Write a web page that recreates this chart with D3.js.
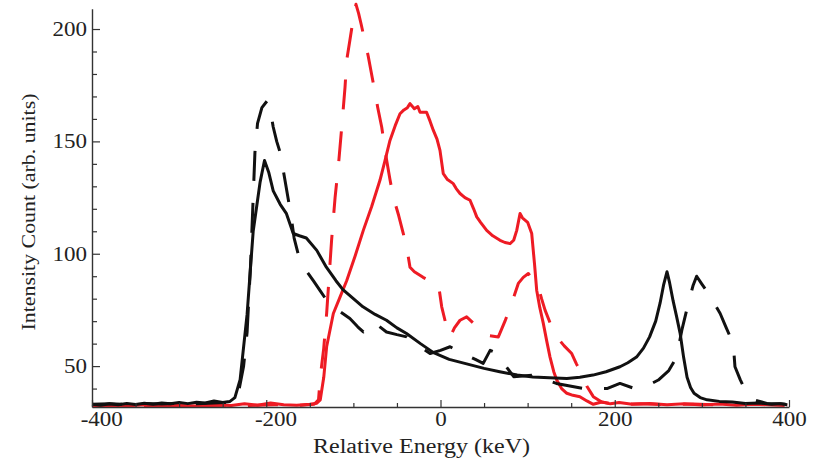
<!DOCTYPE html>
<html>
<head>
<meta charset="utf-8">
<script src="https://cdn.jsdelivr.net/npm/d3@7"></script>
<style>
  html, body { margin: 0; padding: 0; background: #fff; }
  svg { display: block; }
  text { font-family: "Liberation Serif", "Times New Roman", serif; fill: #222; }
</style>
</head>
<body>
<svg id="chart" width="814" height="459"></svg>
<script>
// ---- Data (Relative Energy keV, Intensity Count) ----
const blackSolidX = [-400,-390,-380,-370,-360,-350,-340,-330,-320,-310,-300,-290,-280,-270,-260,-250,-242,-236,-230,-222,-215,-207,-202,-197,-192,-184,-177,-169,-162,-154,-142,-131,-120,-112,-100,-89,-75,-62,-50,-39,-23,-8,10,30,50,68,88,106,125,145,160,175,190,206,215,225,233,240,247,252,256,260,263,267,271,275,279,283,287,291,298,306,320,335,350,365,380,390,398];
const blackSolidY = [33,32.6,33.2,32.8,33.4,32.9,33.5,33.0,33.6,33.2,33.8,33.3,33.9,33.6,34.5,33.8,34.2,36,44,73,110,132,141.5,136,128,122,118,109,108,107,101.5,94,88,84,80,76.4,73,70.4,67,64.5,60,56,53,51,49,47.5,46,45.2,44.8,44.5,45,46,47.5,49.7,51.5,54,58,63,70,78,86,92,87,79,72,64.7,54,45,40.5,37.9,36,35,34.3,34,33.4,33.6,33,33.3,32.8];

const blackDashX = [-400,-380,-360,-340,-320,-300,-280,-260,-248,-240,-232,-226,-222,-218,-215,-213,-210,-205,-199,-195,-192,-188,-184,-178.5,-172,-168,-163,-155,-146,-138,-130.7,-118,-104,-95,-88.6,-77,-62,-50,-38.8,-25,-12,0,11,26,40,49,57,66,75,84,106,120,133,150,164,178,191,206,223,236,250,262,271,277,284.5,290,294,300,307.5,314,321,328,336,338,344,351.5,360,374.5,390,400];
const blackDashY = [33,33.3,32.9,33.4,33.1,33.5,33.2,33.6,33.8,34,38,50,65,95,125,145,158,165,168,163,156.4,150,145,132.7,118,107,99.3,93,88,83.5,79.3,75,71.2,67.5,65.2,69.7,65.2,64,63,59,55.6,57,58.6,55.6,53,51.2,57,55.6,50,45.3,46,44,42.3,41,40,40,40,42.3,40,41,43.8,48,54,66,78,86,90,86.5,82.3,78,73.4,67,60,49.7,44,37.9,35,33.4,33.2,33];

const redSolidX = [-400,-380,-360,-340,-320,-300,-280,-260,-240,-225,-210,-195,-180,-165,-150,-142,-138,-134,-130.7,-123,-115,-107.7,-98,-88.6,-79,-69.5,-64,-58,-52,-46.5,-42,-38,-35,-30,-26,-23.5,-16,-12,-8.3,-4,-0.6,3.2,8,14.7,18,22.4,28,33.9,38,41.6,46,53,60,68.3,74,79.8,84,87.5,91.3,94,97,100,104.7,108,110.4,114,118,122,125.7,130,133.4,139,145,152,160,168,175.4,185,195,205,220,240,260,280,300,320,340,360,380,395];
const redSolidY = [32.3,32.6,32.2,32.8,32.4,32.5,32.3,32.7,32.5,33.2,32.6,33.6,32.8,32.6,33.0,33.5,35,45,58.6,73.4,81,88,99,110.4,121,132.7,141,150.4,157,162.3,164,165,166.8,164.5,165.5,163,163,159,155,151,146,135.6,133,131.2,129,126.8,125,123.8,120,116.4,114,110.4,108,106,105,104.5,106,110.4,117.9,116,115,114,109,95,83.8,76,69,61,54,47.5,43.8,40,37.9,37,36.4,34.5,33,34,33.2,33.8,33,33.4,32.8,33.2,32.7,33.1,32.6,33,32.7,32.5];

const redDashX = [-400,-370,-340,-310,-280,-250,-220,-190,-160,-145,-140,-138,-134,-130.7,-125,-121,-117,-113,-109.6,-107.7,-104,-100,-97,-94,-91,-88.6,-83,-77,-72,-67.5,-61.8,-58,-54,-48,-42.7,-38,-35,-30,-20,-10,-2.5,1.4,6,11,16,22.4,30,38,47.3,56,66.4,74,81.7,89.3,95,100.8,106,112.3,116,120,126,133.4,142,150.6,156,162,168,175.4,185,200,230,260,290,320,350,380,398];
const redDashY = [32.4,32.6,32.3,32.7,32.4,32.6,32.5,32.8,32.6,33,35,45.2,58,73.4,106,125,140,158,174,186,195,205,211,207,202,197.8,188,175.6,165,156.4,141.6,133,125,117,109,101,94,92,89.5,87.5,86.8,76.4,69,63,67,70.4,71.9,69,65.2,63.5,63,70,77.9,86.8,89.5,91.2,88.5,85.2,80,74.9,69,63,59,55.6,51,46.7,41,36.4,34,33,33.2,32.8,33.1,32.7,33,32.8,32.6];

const xTickValues = [-400,-350,-300,-250,-200,-150,-100,-50,0,50,100,150,200,250,300,350,400];
const xTickLabels = [-400,-200,0,200,400];
const yTickValues = [40,50,60,70,80,90,100,110,120,130,140,150,160,170,180,190,200];
const yTickLabels = [50,100,150,200];

const xTitle = "Relative Energy (keV)";
const yTitle = "Intensity Count (arb. units)";

// ---- Drawing ----
const svg = d3.select("#chart");
const x = d3.scaleLinear().domain([-400, 400]).range([92, 789]);
const y = d3.scaleLinear().domain([31.8, 209]).range([407, 8.8]);

const RED = "#ee1b24", BLACK = "#111";
const line = d3.line().x(d => x(d[0])).y(d => y(d[1])).curve(d3.curveLinear);
const zip = (xs, ys) => xs.map((v, i) => [v, ys[i]]);

const series = [
  {x: redSolidX, y: redSolidY, color: RED, dash: null},
  {x: redDashX, y: redDashY, color: RED, dash: "30,22"},
  {x: blackSolidX, y: blackSolidY, color: BLACK, dash: null},
  {x: blackDashX, y: blackDashY, color: BLACK, dash: "30,22"}
];
series.forEach(s => {
  svg.append("path")
    .datum(zip(s.x, s.y))
    .attr("d", line)
    .attr("fill", "none")
    .attr("stroke", s.color)
    .attr("stroke-width", 3)
    .attr("stroke-linejoin", "round")
    .attr("stroke-dasharray", s.dash);
});

// X axis
const xAxis = d3.axisBottom(x)
  .tickValues(xTickValues)
  .tickSizeInner(-4).tickSizeOuter(0)
  .tickFormat(d => xTickLabels.includes(d) ? String(d) : "");
const gx = svg.append("g").attr("transform", "translate(0,407)").call(xAxis);
gx.select(".domain").attr("stroke", "#333").attr("stroke-width", 1.4);
gx.selectAll(".tick line").attr("stroke", "#333").attr("stroke-width", 1.2)
  .attr("y2", d => xTickLabels.includes(d) ? -7 : -4);
gx.selectAll(".tick text")
  .attr("font-size", 20).attr("font-family", "Liberation Serif")
  .attr("fill", "#222")
  .attr("y", 19).attr("dy", null)
  .attr("x", d => d < 0 ? 8 : 0)
  .attr("transform", "scale(1.15,1)");

// Y axis
const yAxis = d3.axisLeft(y)
  .tickValues(yTickValues)
  .tickSizeInner(-5).tickSizeOuter(0)
  .tickFormat(d => yTickLabels.includes(d) ? String(d) : "");
const gy = svg.append("g").attr("transform", "translate(92,0)").call(yAxis);
gy.select(".domain").attr("stroke", "#333").attr("stroke-width", 1.4);
gy.selectAll(".tick line").attr("stroke", "#333").attr("stroke-width", 1.2)
  .attr("x2", d => yTickLabels.includes(d) ? 8 : 5);
gy.selectAll(".tick text")
  .attr("font-size", 20).attr("font-family", "Liberation Serif")
  .attr("fill", "#222")
  .attr("x", -5 / 1.15).attr("dy", "0.32em")
  .attr("transform", "scale(1.15,1)");

// Titles
svg.append("text")
  .attr("x", 421.5).attr("y", 453)
  .attr("text-anchor", "middle")
  .attr("font-size", 20)
  .attr("textLength", 217).attr("lengthAdjust", "spacingAndGlyphs")
  .text(xTitle);

svg.append("text")
  .attr("transform", "translate(35,212) rotate(-90)")
  .attr("text-anchor", "middle")
  .attr("font-size", 19)
  .attr("textLength", 237).attr("lengthAdjust", "spacingAndGlyphs")
  .text(yTitle);
</script>
</body>
</html>
